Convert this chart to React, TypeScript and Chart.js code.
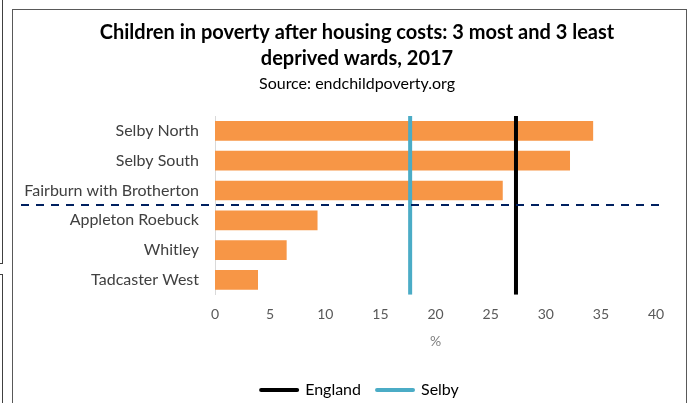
import React, { useEffect, useRef } from "react";
import { Chart, registerables } from "chart.js";

Chart.register(...registerables);

const categories = [
  "Selby North",
  "Selby South",
  "Fairburn with Brotherton",
  "Appleton Roebuck",
  "Whitley",
  "Tadcaster West",
];
const povertyValues = [34.3, 32.2, 26.1, 9.3, 6.5, 3.9];
const englandValue = 27.3;
const selbyValue = 17.7;
const dividerAfterIndex = 2;
const xTicksMin = 0;
const xTicksMax = 40;
const xTicksStep = 5;
const titleLines = [
  "Children in poverty after housing costs: 3 most and 3 least",
  "deprived wards, 2017",
];
const subtitleText = "Source: endchildpoverty.org";
const xAxisTitle = "%";

const FONT = "Lato, 'Open Sans', sans-serif";
const HEADER_SHIFT = 23;
const LEGEND_SHIFT = 26;

const dividerPlugin = {
  id: "divider",
  afterLayout(chart: any) {
    for (const box of chart.boxes) {
      if (box === chart.legend) {
        box.left += LEGEND_SHIFT;
        box.right += LEGEND_SHIFT;
      } else if (box.position === "top" && box.options && box.options.text) {
        box.left += HEADER_SHIFT;
        box.right += HEADER_SHIFT;
      }
    }
  },
  afterDatasetsDraw(chart: any) {
    const yScale = chart.scales.y;
    const area = chart.chartArea;
    const y = Math.round(yScale.getPixelForValue(dividerAfterIndex + 0.5));
    const ctx = chart.ctx;
    ctx.save();
    ctx.strokeStyle = "#002060";
    ctx.lineWidth = 2;
    ctx.setLineDash([8, 7]);
    ctx.beginPath();
    ctx.moveTo(area.left - 194, y);
    ctx.lineTo(area.right + 7, y);
    ctx.stroke();
    ctx.restore();
  },
};

export default function App() {
  const canvasRef = useRef<HTMLCanvasElement | null>(null);

  useEffect(() => {
    if (!canvasRef.current) return;
    const chart = new Chart(canvasRef.current, {
      type: "bar",
      data: {
        labels: categories,
        datasets: [
          {
            type: "bar",
            label: "Children in poverty",
            data: povertyValues,
            backgroundColor: "#F79646",
            borderWidth: 0,
            grouped: false,
            barPercentage: 0.66,
            categoryPercentage: 1,
            xAxisID: "x",
            yAxisID: "y",
            order: 2,
          } as any,
          {
            type: "line",
            label: "England",
            data: [
              { x: englandValue, y: 0 },
              { x: englandValue, y: 1 },
            ],
            borderColor: "#000000",
            backgroundColor: "#000000",
            borderWidth: 4,
            pointRadius: 0,
            fill: false,
            xAxisID: "x",
            yAxisID: "y2",
            order: 1,
          } as any,
          {
            type: "line",
            label: "Selby",
            data: [
              { x: selbyValue, y: 0 },
              { x: selbyValue, y: 1 },
            ],
            borderColor: "#4BACC6",
            backgroundColor: "#4BACC6",
            borderWidth: 4,
            pointRadius: 0,
            fill: false,
            xAxisID: "x",
            yAxisID: "y2",
            order: 1,
          } as any,
        ],
      },
      options: {
        indexAxis: "y",
        animation: false,
        responsive: false,
        maintainAspectRatio: false,
        layout: { padding: { left: 12, right: 36, top: 10, bottom: 0 } },
        scales: {
          x: {
            type: "linear",
            min: xTicksMin,
            max: xTicksMax,
            grid: { display: false, drawTicks: false },
            border: { display: false },
            ticks: {
              stepSize: xTicksStep,
              padding: 11.6,
              color: "#595959",
              font: { family: FONT, size: 14 },
            },
            title: {
              display: true,
              text: xAxisTitle,
              color: "#7F7F7F",
              font: { family: FONT, size: 14, lineHeight: 1 },
              padding: { top: 0, bottom: 17.2 },
            },
          },
          y: {
            type: "category",
            grid: { display: false, drawTicks: false },
            border: { display: true, color: "#D9D9D9", width: 1 },
            ticks: {
              padding: 16,
              color: "#404040",
              font: { family: FONT, size: 16 },
            },
            afterFit(scale: any) {
              scale.width = 203;
            },
          },
          y2: {
            type: "linear",
            display: false,
            min: 0,
            max: 1,
            offset: false,
          },
        },
        plugins: {
          title: {
            display: true,
            text: titleLines,
            color: "#000000",
            font: { family: FONT, size: 20, weight: "bold", lineHeight: 1.3 },
            padding: { top: 10, bottom: 0 },
          },
          subtitle: {
            display: true,
            text: subtitleText,
            color: "#000000",
            font: { family: FONT, size: 16 },
            padding: { top: 2.4, bottom: 22.4 },
          },
          legend: {
            display: true,
            position: "bottom",
            labels: {
              usePointStyle: true,
              pointStyle: "line",
              pointStyleWidth: 36,
              padding: 16,
              color: "#000000",
              font: { family: FONT, size: 16 },
              filter: (item: any) => item.text === "England" || item.text === "Selby",
              generateLabels: (c: any) =>
                (Chart.defaults.plugins.legend.labels.generateLabels as any)(c).map((it: any) => ({
                  ...it,
                  lineCap: "round",
                  pointStyle: "line",
                })),
            },
          },
          tooltip: { enabled: false },
        },
      } as any,
      plugins: [dividerPlugin],
    });
    return () => chart.destroy();
  }, []);

  return (
    <div
      style={{
        position: "absolute",
        left: 0,
        top: 0,
        width: 692,
        height: 403,
        overflow: "hidden",
        background: "#ffffff",
      }}
    >
      <canvas ref={canvasRef} width={692} height={408} style={{ position: "absolute", left: 0, top: 0 }} />
      <div
        style={{
          position: "absolute",
          left: 12,
          top: 9,
          width: 673,
          height: 500,
          border: "1px solid #595959",
          pointerEvents: "none",
        }}
      />
      <div style={{ position: "absolute", left: 2, top: 0, width: 1, height: 264, background: "#404040" }} />
      <div style={{ position: "absolute", left: 0, top: 263, width: 3, height: 1, background: "#404040" }} />
      <div style={{ position: "absolute", left: 0, top: 274, width: 3, height: 1, background: "#404040" }} />
      <div style={{ position: "absolute", left: 2, top: 274, width: 1, height: 140, background: "#404040" }} />
    </div>
  );
}
